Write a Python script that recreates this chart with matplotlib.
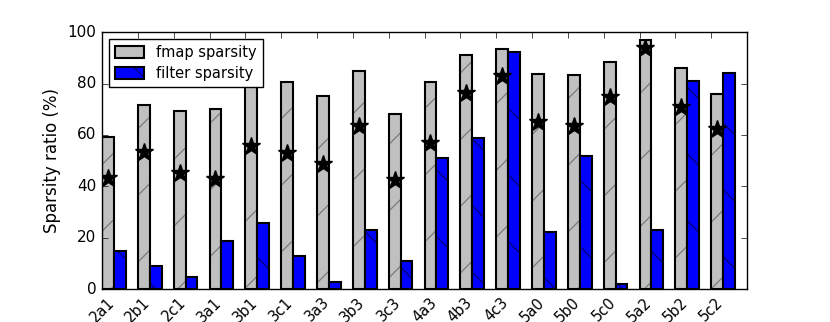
import numpy as np
import matplotlib
matplotlib.use('Agg')
import matplotlib.pyplot as plt
import matplotlib.colors as mcolors

layers = ['2a1', '2b1', '2c1', '3a1', '3b1', '3c1', '3a3', '3b3', '3c3',
          '4a3', '4b3', '4c3', '5a0', '5b0', '5c0', '5a2', '5b2', '5c2']
fmap_sparsity = [59.3, 71.6, 69.5, 70.2, 81.6, 80.7, 75.1, 85.0, 68.2,
                 80.5, 91.3, 93.4, 83.7, 83.3, 88.4, 96.9, 85.9, 76.1]
filter_sparsity = [15.0, 9.0, 4.8, 18.9, 25.9, 12.8, 2.9, 23.0, 10.9,
                   51.1, 59.0, 92.1, 22.1, 51.9, 1.9, 23.0, 80.9, 84.2]
star_values = [43.1, 53.4, 45.3, 42.8, 55.6, 53.0, 48.6, 63.4, 42.4,
               56.9, 76.5, 82.9, 65.2, 63.4, 74.8, 93.7, 70.7, 62.5]

plt.style.use('classic')

# render at 200 dpi on a half-size figure so the hatch comes out sparse,
# so every size in points is halved
S = 0.5
plt.rcParams['axes.linewidth'] = 1.0 * S
for a in ('xtick', 'ytick'):
    plt.rcParams[a + '.major.size'] = 4 * S
    plt.rcParams[a + '.major.width'] = 0.5 * S
    plt.rcParams[a + '.major.pad'] = 4 * S
plt.rcParams['axes.labelpad'] = 5 * S
plt.rcParams['hatch.linewidth'] = 0.9 * S

x = np.arange(len(layers))
w = 0.33

fig = plt.figure(figsize=(8.3 * S, 3.22 * S))
ax = fig.add_axes([0.123, 0.102, 0.777, 0.798])

b1 = ax.bar(x, fmap_sparsity, w, align='edge', color='#c0c0c0', edgecolor='black',
            linewidth=1.5 * S, hatch='/', label='fmap sparsity')
b2 = ax.bar(x + w, filter_sparsity, w, align='edge', color='#0000ff', edgecolor='black',
            linewidth=1.5 * S, hatch='\\', label='filter sparsity')
for p in b1:
    p._hatch_color = mcolors.to_rgba('#7a7a7a')
for p in b2:
    p._hatch_color = mcolors.to_rgba('#000070')
ax.plot(x + w / 2, star_values, '*', color='black', markersize=13.5 * S,
        markeredgewidth=1.0 * S)

ax.set_xlim(0, len(layers))
ax.set_ylim(0, 100)
ax.set_xticks(x)
ax.set_xticklabels(layers, rotation=45, fontsize=10.5 * S)
ax.tick_params(axis='y', labelsize=11 * S)
ax.set_ylabel('Sparsity ratio (%)', fontsize=12 * S)
leg = ax.legend(loc='upper left', fontsize=10.5 * S, handlelength=2.0,
                handleheight=0.9, borderaxespad=0.5, labelspacing=0.4)
leg.get_frame().set_linewidth(1.0 * S)

fig.savefig('out.png', dpi=200)
